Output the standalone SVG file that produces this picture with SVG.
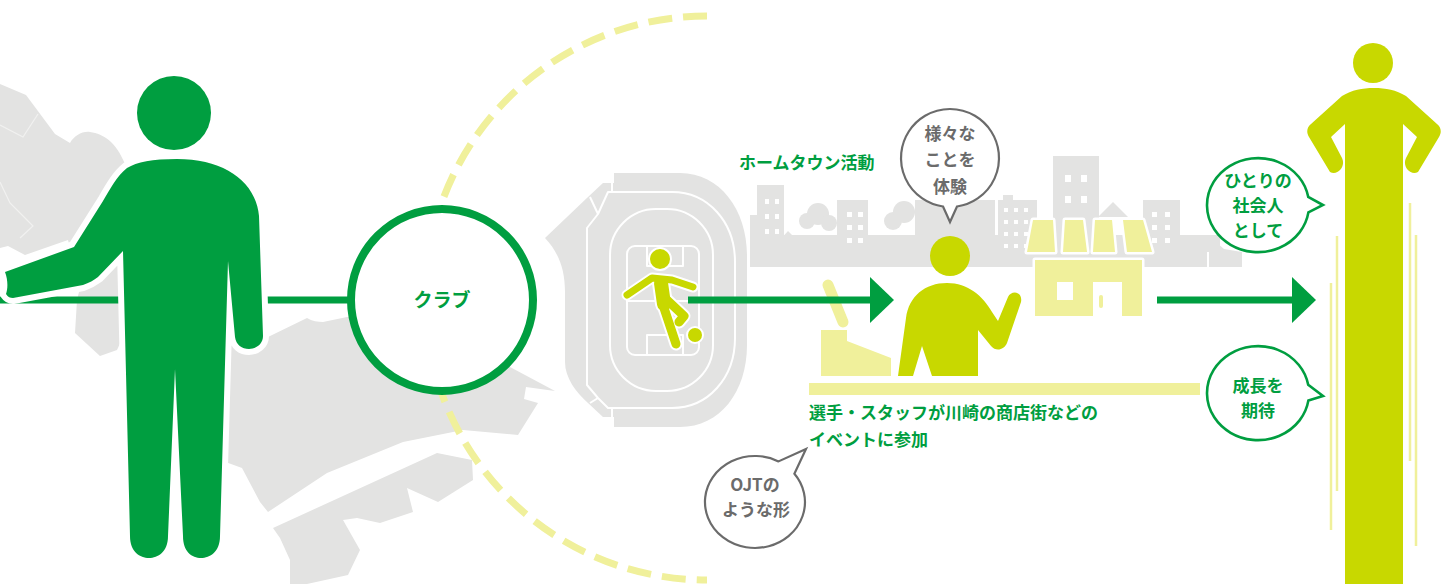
<svg xmlns="http://www.w3.org/2000/svg" width="1445" height="584" viewBox="0 0 1445 584">
  <style>
    .map { fill: #e3e3e2; }
    .map-edge { fill: none; stroke: #f1f1f0; stroke-width: 1.2; }
    .green { fill: #009e40; }
    .lime { fill: #c8d800; }
    .pale { fill: #f0f09b; }
    .gray { fill: #e3e3e2; }
    .win { fill: #ffffff; }
    .wline { fill: none; stroke: #ffffff; stroke-width: 2; stroke-linejoin: round; }
    .bubble-g { fill: #ffffff; stroke: #6b6b6b; stroke-width: 2.2; }
    .bubble-c { fill: #ffffff; stroke: #009e40; stroke-width: 2.6; }
    .txt { font-family: "Noto Sans CJK JP", "Noto Sans", sans-serif; font-weight: 700; }
    .tg { fill: #009e40; font-size: 17px; }
    .tgr { fill: #6b6b6b; font-size: 17px; text-anchor: middle; }
    .tb { fill: #009e40; font-size: 17px; text-anchor: middle; }
    .conn { stroke: #009e40; stroke-width: 7; fill: none; }
    .vline { stroke: #f0f09b; stroke-width: 2.5; }
  </style>
  <defs>
    <marker id="arrowhead" markerUnits="userSpaceOnUse" markerWidth="24" markerHeight="46" refX="0" refY="23" orient="auto">
      <path d="M0,0 L24,23 L0,46 Z" fill="#009e40"/>
    </marker>
  </defs>

  <!-- city map in the background -->
  <g id="map">
    <path class="map" d="M0,84 L26,95 L55,134 L70,143 C74,136 82,131 90,132 C104,134 116,142 125,164 L140,200 L140,300 L117,350 L100,356 L75,333 L77,300 L80,288 L68,240 L25,255 L8,246 L0,248 Z"/>
    <path class="map" d="M220,345 L268,337 L307,318 C312,321 318,322 323,322 L347,317 L440,320 L510,367 L555,391 L526,387 L524,399 L538,403 L518,435 L463,430 L403,442 L327,473 L268,512 L260,502 L242,468 L220,460 Z"/>
    <path class="map" d="M273,528 L437,453 L472,460 L473,480 L438,502 L407,488 L413,512 L380,523 L357,518 L343,520 L360,550 L348,575 L307,584 L290,584 L290,560 L280,538 Z"/>
    <path class="map-edge" d="M0,125 L23,137 L38,114 M0,182 L10,203 L33,226 L20,238"/>
  </g>

  <!-- dashed ring -->
  <g id="ring">
    <path d="M707,16 A282,282 0 0 0 707,580" fill="none" stroke="#f0f09b" stroke-width="7" stroke-dasharray="24 11"/>
  </g>

  <!-- stadium -->
  <g id="stadium">
    <path class="gray" d="M614,173 L680,173 C720,173 747,210 747,255 L747,345 C747,392 720,427 680,427 L614,427 L614,417 L603,417 L588,403 C576,392 565,378 565,362 L565,292 C565,268 558,252 545,238 L588,197 L603,183 L614,183 Z"/>
    <path class="wline" d="M608,192 L672,192 C708,192 735,222 735,262 L735,338 C735,378 708,408 672,408 L608,408 L598,398 L587,385 L587,228 L598,214 Z"/>
    <path class="wline" d="M612,173 L612,192 M590,197 L598,214 M612,408 L612,427 M590,403 L598,398"/>
    <rect class="wline" x="610" y="209" width="103" height="182" rx="46" ry="46"/>
    <rect class="wline" x="627" y="246" width="72" height="109" rx="8" ry="8"/>
    <path class="wline" d="M647,246 L647,266 L683,266 L683,246 M647,355 L647,335 L683,335 L683,355 M627,301 L699,301"/>
    <!-- player -->
    <g stroke="#ffffff" stroke-linecap="round" stroke-linejoin="round" fill="none">
      <polyline points="627,295 652,278 672,280 693,287" stroke-width="11"/>
      <line x1="661" y1="283" x2="664" y2="304" stroke-width="18"/>
      <line x1="663" y1="305" x2="676" y2="344" stroke-width="13"/>
      <polyline points="667,300 684,316 679,322" stroke-width="13"/>
      <circle cx="660" cy="259" r="10" stroke-width="4"/>
      <circle cx="695" cy="335" r="7" stroke-width="4"/>
    </g>
    <g stroke="#c8d800" stroke-linecap="round" stroke-linejoin="round" fill="none">
      <polyline points="627,295 652,278 672,280 693,287" stroke-width="7"/>
      <line x1="661" y1="283" x2="664" y2="304" stroke-width="14"/>
      <line x1="663" y1="305" x2="676" y2="344" stroke-width="9"/>
      <polyline points="667,300 684,316 679,322" stroke-width="9"/>
    </g>
    <circle class="lime" cx="660" cy="259" r="10"/>
    <circle class="lime" cx="695" cy="335" r="7"/>
  </g>

  <!-- town skyline -->
  <g id="town">
    <g class="gray">
      <rect x="750" y="215" width="7" height="52"/>
      <rect x="750" y="235" width="470" height="32"/>
      <rect x="757" y="185" width="27" height="82"/>
      <polygon points="780,240 788,231 797,240"/>
      <circle cx="807" cy="221" r="8"/>
      <circle cx="818" cy="214" r="11"/>
      <circle cx="829" cy="223" r="8"/>
      <rect x="837" y="200" width="31" height="67"/>
      <circle cx="893" cy="221" r="9"/>
      <circle cx="904" cy="212" r="11"/>
      <rect x="915" y="200" width="80" height="67"/>
      <rect x="998" y="200" width="39" height="67"/>
      <rect x="1003" y="195" width="10" height="6"/>
      <rect x="1053" y="156" width="46" height="111"/>
      <polygon points="1098,217 1113,202 1128,217"/>
      <rect x="1143" y="200" width="37" height="67"/>
      <path d="M1180,267 L1180,247 L1200,247 L1210,237 L1224,249 L1242,252 L1242,267 Z"/>
    </g>
    <g class="win">
      <rect x="765" y="199" width="4" height="5"/><rect x="775" y="199" width="4" height="5"/>
      <rect x="765" y="214" width="4" height="5"/><rect x="775" y="214" width="4" height="5"/>
      <rect x="765" y="229" width="4" height="5"/><rect x="775" y="229" width="4" height="5"/>
      <rect x="847" y="212" width="5" height="5"/><rect x="858" y="212" width="5" height="5"/>
      <rect x="847" y="225" width="5" height="5"/><rect x="858" y="225" width="5" height="5"/>
      <rect x="847" y="238" width="5" height="5"/><rect x="858" y="238" width="5" height="5"/>
      <rect x="1004" y="208" width="4" height="4"/><rect x="1014" y="208" width="4" height="4"/><rect x="1024" y="208" width="4" height="4"/>
      <rect x="1004" y="220" width="4" height="4"/><rect x="1014" y="220" width="4" height="4"/><rect x="1024" y="220" width="4" height="4"/>
      <rect x="1004" y="232" width="4" height="4"/><rect x="1014" y="232" width="4" height="4"/><rect x="1024" y="232" width="4" height="4"/>
      <rect x="1004" y="244" width="4" height="4"/><rect x="1014" y="244" width="4" height="4"/><rect x="1024" y="244" width="4" height="4"/>
      <rect x="1065" y="175" width="6" height="7"/><rect x="1081" y="175" width="6" height="7"/>
      <rect x="1065" y="196" width="6" height="7"/><rect x="1081" y="196" width="6" height="7"/>
      <rect x="1152" y="212" width="5" height="5"/><rect x="1165" y="212" width="5" height="5"/>
      <rect x="1152" y="225" width="5" height="5"/><rect x="1165" y="225" width="5" height="5"/>
      <rect x="1152" y="238" width="5" height="5"/><rect x="1165" y="238" width="5" height="5"/>
      <rect x="1207" y="252" width="2" height="15"/>
    </g>
  </g>

  <!-- shop front -->
  <g id="shop">
    <g class="pale" stroke="#ffffff" stroke-width="5" stroke-linejoin="round" paint-order="stroke">
      <polygon points="1033,220 1053,220 1055,252 1027,252"/>
      <polygon points="1065,220 1083,220 1087,252 1063,252"/>
      <polygon points="1095,220 1112,220 1115,252 1093,252"/>
      <polygon points="1123,220 1143,220 1152,252 1127,252"/>
      <rect x="1035" y="260" width="107" height="56"/>
    </g>
    <rect class="win" x="1057" y="282" width="16" height="18"/>
    <rect class="win" x="1093" y="282" width="29" height="36"/>
    <rect class="pale" x="1099" y="295" width="4" height="13" rx="2"/>
  </g>

  <!-- register and counter -->
  <g id="register">
    <line x1="828" y1="285" x2="843" y2="322" stroke="#f0f09b" stroke-width="11" stroke-linecap="round"/>
    <polygon class="pale" points="821,330 847,330 847,341 891,358 891,376 821,376"/>
    <rect class="pale" x="809" y="383" width="391" height="12"/>
  </g>

  <!-- shopkeeper -->
  <g id="shopkeeper">
    <circle class="lime" cx="950" cy="256" r="20"/>
    <path class="lime" d="M898,376 L906,318 C909,296 925,283 947,283 C968,283 983,296 992,312 L998,321 L1008,297 C1011,290 1023,291 1021,302 L1007,343 C1004,350 996,352 991,346 L978,330 L978,376 L932,376 L922,346 L913,376 Z"/>
  </g>

  <!-- connectors -->
  <g id="connectors">
    <line class="conn" x1="0" y1="300" x2="350" y2="300"/>
    <line class="conn" x1="688" y1="300" x2="870" y2="300" marker-end="url(#arrowhead)"/>
    <line class="conn" x1="1157" y1="300" x2="1292" y2="300" marker-end="url(#arrowhead)"/>
  </g>

  <!-- person on the left -->
  <g id="person-left">
    <circle class="green" cx="174" cy="113" r="37"/>
    <path class="green" stroke="#ffffff" stroke-width="12" stroke-linejoin="round" paint-order="stroke" d="M123,251 L130,536 C130,552 140,558 149,558 C158,558 168,552 168,536 L175,369 L183,536 C183,552 192,558 201,558 C210,558 220,552 220,536 L228,261 L235,337 C236,345 242,349 249,349 C256,349 263,344 263,336 L259,216 C256,182 225,159 177,159 C152,159 137,162 127,168 C117,176 110,189 103,201 L74,247 L5,272 C8,280 8,288 6,294 C8,297 10,298 13,298 L83,285 C89,283 94,280 98,277 Z"/>
  </g>

  <!-- club node -->
  <g id="club">
    <circle cx="442" cy="300" r="91" fill="#ffffff" stroke="#009e40" stroke-width="8"/>
    <text class="txt" x="442" y="307" fill="#009e40" font-size="19" text-anchor="middle">クラブ</text>
  </g>

  <!-- labels -->
  <g id="labels" class="txt">
    <text class="tg" x="739" y="169">ホームタウン活動</text>
    <text class="tg" x="809" y="419">選手・スタッフが川崎の商店街などの</text>
    <text class="tg" x="809" y="446">イベントに参加</text>
  </g>

  <!-- speech bubbles -->
  <g id="bubble-experience">
    <path class="bubble-g" d="M943,206.5 L950,222 L957,206.5 A49,49 0 1 0 943,206.5 Z"/>
    <text class="txt tgr" x="950" y="139.5">様々な</text>
    <text class="txt tgr" x="950" y="166">ことを</text>
    <text class="txt tgr" x="950" y="192.5">体験</text>
  </g>
  <g id="bubble-ojt">
    <path class="bubble-g" d="M794.4,473.7 L806,449 L778.5,461.4 A50,46 0 1 0 794.4,473.7 Z"/>
    <text class="txt tgr" x="755" y="491" font-size="16">OJTの</text>
    <text class="txt tgr" x="756" y="516" font-size="16">ような形</text>
  </g>
  <g id="bubble-member">
    <path class="bubble-c" d="M1308.4,212.4 L1323,205 L1308.2,196.8 A51,47 0 1 0 1308.4,212.4 Z"/>
    <text class="txt tb" x="1258" y="186.5">ひとりの</text>
    <text class="txt tb" x="1258" y="211.5">社会人</text>
    <text class="txt tb" x="1258" y="236.5">として</text>
  </g>
  <g id="bubble-growth">
    <path class="bubble-c" d="M1308.4,400.4 L1323,396 L1308.2,384.8 A51,47 0 1 0 1308.4,400.4 Z"/>
    <text class="txt tb" x="1258" y="391.5">成長を</text>
    <text class="txt tb" x="1258" y="416.5">期待</text>
  </g>

  <!-- growing person on the right -->
  <g id="person-right">
    <line class="vline" x1="1337" y1="236" x2="1337" y2="491"/>
    <line class="vline" x1="1331" y1="283" x2="1331" y2="530"/>
    <line class="vline" x1="1410" y1="203" x2="1410" y2="461"/>
    <line class="vline" x1="1416" y1="235" x2="1416" y2="546"/>
    <circle class="lime" cx="1373" cy="63" r="20"/>
    <path class="lime" d="M1345,584 L1345,124 L1331,137 L1342,158 C1346,166 1338,176 1330,172 L1309,137 C1306,132 1307,127 1311,124 L1342,96 C1352,90 1362,88 1374,88 C1386,88 1396,90 1406,96 L1437,124 C1441,127 1442,132 1439,137 L1418,172 C1410,176 1402,166 1406,158 L1417,137 L1403,124 L1403,584 Z"/>
  </g>
</svg>
